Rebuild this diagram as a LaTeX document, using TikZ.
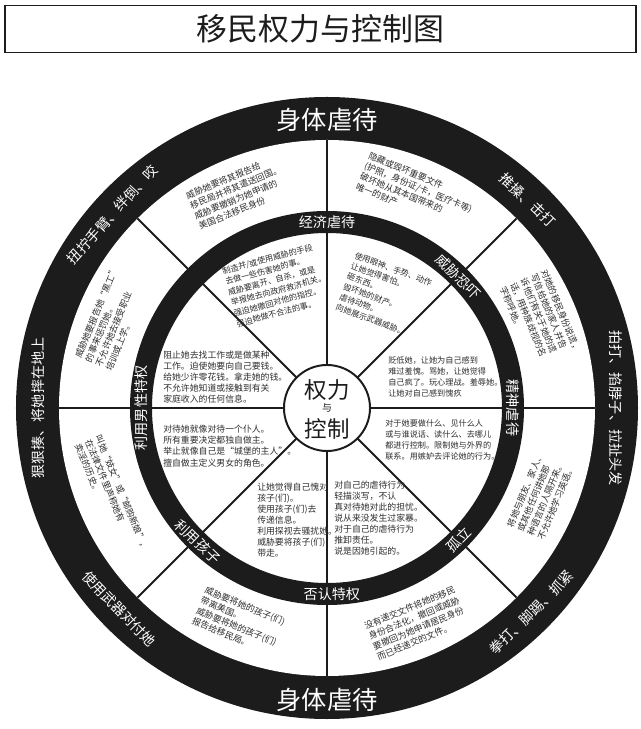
\documentclass[tikz,border=0pt]{standalone}
\usepackage{fontspec}
\newfontfamily\cjk{Noto Sans CJK SC}
\usepackage{xcolor}
\definecolor{WheelBlack}{HTML}{1C1C1C}
\definecolor{WheelInk}  {HTML}{2E2E2E}
\usetikzlibrary{positioning}
\tikzset{
  titlebox/.style={rectangle,draw=WheelBlack,line width=1.2pt,
    minimum width=15.775cm,minimum height=1.175cm,
    font=\cjk\fontsize{22}{24}\selectfont,text=WheelBlack},
  spokeline/.style={draw=WheelBlack,line width=1.3pt},
  hubnode/.style={circle,draw=WheelBlack,fill=white,
    line width=1.4pt,minimum size=2.15cm,inner sep=0pt},
  hubword/.style={font=\cjk\fontsize{16}{18}\selectfont,
    text=WheelBlack,inner sep=0pt},
  bandlabel/.style={text=white,inner sep=0pt,
    font=\cjk\fontsize{10}{12}\selectfont},
  bigbandlabel/.style={text=white,inner sep=0pt,
    font=\cjk\fontsize{18}{20}\selectfont},
  segtext/.style={text=WheelInk,align=left,inner sep=0pt,
    font=\cjk\fontsize{6.3}{7.9}\selectfont},
  smallseg/.style={segtext,font=\cjk\fontsize{5.8}{7.8}\selectfont},
}

\begin{document}
\begin{tikzpicture}[x=0.025cm,y=0.025cm]
  \useasboundingbox (-327,-321) rectangle (313,408);
  % title
  \node[titlebox] (title) at (-6.5,379) {移民权力与控制图};
  % wheel
  \fill[WheelBlack] (0,0) circle (311);
  \fill[white] (0,0) circle (268);
  \foreach \a in {0,45,...,315}
    \draw[spokeline] (\a:43) -- (\a:268);
  \fill[WheelBlack,even odd rule] (0,0) circle (197) (0,0) circle (175);
  \node[hubnode] (hub) at (0,0) {};
  \node[hubword,font=\cjk\fontsize{7}{8}\selectfont] (yu) at (0,0) {与};
  \node[hubword,above=2pt of yu] (quanli) {权力};
  \node[hubword,below=4pt of yu] (kongzhi) {控制};
  % outer band
  \node[bigbandlabel] (phystop) at (90:288) {身体虐待};
  \node[bigbandlabel] (physbot) at (270:292) {身体虐待};
  \node[bandlabel,rotate=-44] (shove) at (46:289) {推搡、击打};
  \node[bandlabel,rotate=-90] (slap) at (0:289) {拍打、掐脖子、拉扯头发};
  \node[bandlabel,rotate=45] (punch) at (-45:289) {拳打、脚踢、抓紧};
  \node[bandlabel,rotate=-46] (weapon) at (224:289) {使用武器对付她};
  \node[bandlabel,rotate=90] (beat) at (180:289) {狠狠揍、将她摔在地上};
  \node[bandlabel,rotate=48] (twist) at (138:289) {扭拧手臂、绊倒、咬};
  % inner band
  \node[bandlabel] (econ) at (90:186) {经济虐待};
  \node[bandlabel,rotate=-45] (intim) at (45:186) {威胁恐吓};
  \node[bandlabel,rotate=-90] (emot) at (0:186) {精神虐待};
  \node[bandlabel,rotate=45] (isol) at (-45:186) {孤立};
  \node[bandlabel] (deny) at (271.5:186) {否认特权};
  \node[bandlabel,rotate=-44] (kids) at (226:186) {利用孩子};
  \node[bandlabel,rotate=90] (male) at (180:186) {利用男性特权};
  % outer segments
  \node[segtext,rotate=22.5] (outA) at (112.5:233) {威胁她要将其报告给\\移民局并将其遣送回国。\\威胁要撤销为她申请的\\美国合法移民身份};
  \node[segtext,rotate=-22.5] (outB) at (67.5:233) {隐藏或毁坏重要文件\\(护照，身份证/卡，医疗卡等)\\破坏她从其本国带来的\\唯一的财产};
  \node[segtext,rotate=-67.5] (outC) at (22.5:231) {对她的移民身份说谎，\\写信给她的家人并告\\诉他们有关于她的谎\\话，用种族歧视的名\\字称呼她。};
  \node[segtext,rotate=67.5] (outD) at (-22.5:231) {将她与朋友、家人、\\或其他任何讲她那\\种语言的人隔开来。\\不允许她学习英语。};
  \node[segtext,rotate=22.5] (outE) at (-67.5:233) {没有递交文件将她的移民\\身份合法化，撤回或威胁\\要撤回为她申请居民身份\\而已经递交的文件。};
  \node[segtext,rotate=-22.5] (outF) at (247.5:231) {威胁要将她的孩子(们)\\带离美国。\\威胁要将她的孩子(们)\\报告给移民局。};
  \node[segtext,rotate=-67.5] (outG) at (202.5:233) {叫她“妓女”或“邮购新娘”，\\在法律文件里声称她有\\卖淫的历史。};
  \node[segtext,rotate=67.5] (outH) at (157.5:233) {威胁她要报告她“黑工”\\的事来惩罚她。\\不允许她去接受职业\\培训或上学。};
  % inner segments
  \node[smallseg,rotate=15] (inA) at (-50,123) {制造并/或使用威胁的手段\\去做一些伤害她的事。\\威胁要离开、自杀，或是\\举报她去向政府救济机关。\\强迫她撤回对他的指控。\\强迫她做不合法的事。};
  \node[smallseg,rotate=-20] (inB) at (57,113) {使用眼神、手势、动作\\让她觉得害怕。\\砸东西。\\毁坏她的财产。\\虐待动物。\\向她展示武器威胁。};
  \node[smallseg,anchor=west] (inC) at (61,31) {贬低她，让她为自己感到\\难过羞愧。骂她，让她觉得\\自己疯了。玩心理战。羞辱她。\\让她对自己感到愧疚};
  \node[smallseg,anchor=west] (inD) at (58,-32) {对于她要做什么、见什么人\\或与谁说话、读什么、去哪儿\\都进行控制。限制她与外界的\\联系。用嫉妒去评论她的行为。};
  \node[segtext,anchor=west] (inE) at (7,-110) {对自己的虐待行为\\轻描淡写，不认\\真对待她对此的担忧。\\说从来没发生过家暴。\\对于自己的虐待行为\\推卸责任。\\说是因她引起的。};
  \node[segtext,anchor=west] (inF) at (-70,-112) {让她觉得自己愧对\\孩子(们)。\\使用孩子(们)去\\传递信息。\\利用探视去骚扰她。\\威胁要将孩子(们)\\带走。};
  \node[segtext,anchor=west] (inG) at (-164,-38) {对待她就像对待一个仆人。\\所有重要决定都独自做主。\\举止就像自己是“城堡的主人”。\\擅自做主定义男女的角色。};
  \node[segtext,anchor=west] (inH) at (-164,31) {阻止她去找工作或是做某种\\工作。迫使她要向自己要钱。\\给她少许零花钱。拿走她的钱。\\不允许她知道或接触到有关\\家庭收入的任何信息。};
\end{tikzpicture}
\end{document}
